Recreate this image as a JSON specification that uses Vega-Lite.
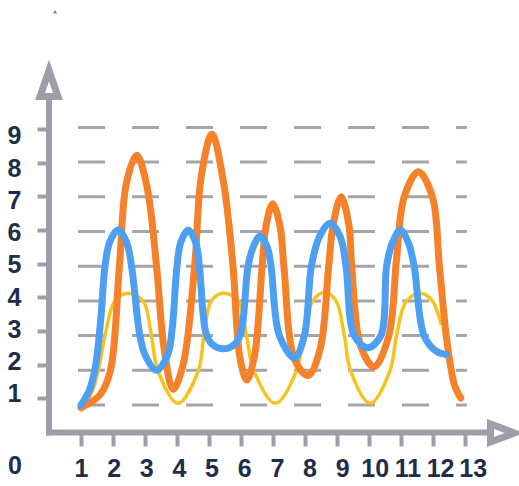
{
  "$schema": "https://vega.github.io/schema/vega-lite/v6.json",
  "width": 519,
  "height": 486,
  "autosize": {"type": "none"},
  "padding": 0,
  "background": "#ffffff",
  "config": {"view": {"stroke": null}},
  "datasets": {
    "grid": [{"v": 1}, {"v": 2}, {"v": 3}, {"v": 4}, {"v": 5}, {"v": 6}, {"v": 7}, {"v": 8}, {"v": 9}],
    "origin": [{"label": "0"}],
    "curves": [
      {"s": "yellow", "x": 1.0, "y": 0.93}, {"s": "yellow", "x": 1.33, "y": 1.35}, {"s": "yellow", "x": 1.54, "y": 2.0}, {"s": "yellow", "x": 1.75, "y": 3.0}, {"s": "yellow", "x": 2.06, "y": 4.0}, {"s": "yellow", "x": 2.47, "y": 4.22}, {"s": "yellow", "x": 2.94, "y": 4.0}, {"s": "yellow", "x": 3.2, "y": 3.0}, {"s": "yellow", "x": 3.4, "y": 2.0}, {"s": "yellow", "x": 4.03, "y": 1.05}, {"s": "yellow", "x": 4.67, "y": 2.0}, {"s": "yellow", "x": 4.84, "y": 3.0}, {"s": "yellow", "x": 5.07, "y": 4.0}, {"s": "yellow", "x": 5.45, "y": 4.22}, {"s": "yellow", "x": 5.92, "y": 4.0}, {"s": "yellow", "x": 6.17, "y": 3.0}, {"s": "yellow", "x": 6.4, "y": 2.0}, {"s": "yellow", "x": 7.07, "y": 1.05}, {"s": "yellow", "x": 7.74, "y": 2.0}, {"s": "yellow", "x": 7.95, "y": 3.0}, {"s": "yellow", "x": 8.24, "y": 4.0}, {"s": "yellow", "x": 8.62, "y": 4.24}, {"s": "yellow", "x": 8.97, "y": 4.0}, {"s": "yellow", "x": 9.23, "y": 3.0}, {"s": "yellow", "x": 9.42, "y": 2.0}, {"s": "yellow", "x": 10.04, "y": 1.05}, {"s": "yellow", "x": 10.66, "y": 2.0}, {"s": "yellow", "x": 10.86, "y": 3.0}, {"s": "yellow", "x": 11.17, "y": 4.0}, {"s": "yellow", "x": 11.63, "y": 4.22}, {"s": "yellow", "x": 11.98, "y": 4.0}, {"s": "yellow", "x": 12.17, "y": 3.6}, {"s": "yellow", "x": 12.25, "y": 3.35},
      {"s": "orange", "x": 1.0, "y": 0.92}, {"s": "orange", "x": 1.6, "y": 1.3}, {"s": "orange", "x": 1.92, "y": 2.0}, {"s": "orange", "x": 2.2, "y": 5.0}, {"s": "orange", "x": 2.42, "y": 7.4}, {"s": "orange", "x": 2.74, "y": 8.2}, {"s": "orange", "x": 3.06, "y": 7.3}, {"s": "orange", "x": 3.36, "y": 5.0}, {"s": "orange", "x": 3.6, "y": 2.6}, {"s": "orange", "x": 3.88, "y": 1.45}, {"s": "orange", "x": 4.2, "y": 2.2}, {"s": "orange", "x": 4.55, "y": 5.0}, {"s": "orange", "x": 4.76, "y": 7.6}, {"s": "orange", "x": 5.09, "y": 8.8}, {"s": "orange", "x": 5.44, "y": 7.5}, {"s": "orange", "x": 5.75, "y": 5.0}, {"s": "orange", "x": 5.96, "y": 2.4}, {"s": "orange", "x": 6.18, "y": 1.72}, {"s": "orange", "x": 6.42, "y": 2.4}, {"s": "orange", "x": 6.66, "y": 5.0}, {"s": "orange", "x": 6.78, "y": 6.15}, {"s": "orange", "x": 6.99, "y": 6.8}, {"s": "orange", "x": 7.22, "y": 6.15}, {"s": "orange", "x": 7.34, "y": 5.0}, {"s": "orange", "x": 7.68, "y": 2.3}, {"s": "orange", "x": 8.1, "y": 1.85}, {"s": "orange", "x": 8.47, "y": 2.6}, {"s": "orange", "x": 8.74, "y": 5.0}, {"s": "orange", "x": 8.88, "y": 6.2}, {"s": "orange", "x": 9.13, "y": 7.0}, {"s": "orange", "x": 9.37, "y": 6.2}, {"s": "orange", "x": 9.46, "y": 5.0}, {"s": "orange", "x": 9.74, "y": 2.7}, {"s": "orange", "x": 10.16, "y": 2.1}, {"s": "orange", "x": 10.62, "y": 3.0}, {"s": "orange", "x": 10.86, "y": 5.2}, {"s": "orange", "x": 11.1, "y": 7.0}, {"s": "orange", "x": 11.54, "y": 7.72}, {"s": "orange", "x": 11.98, "y": 7.0}, {"s": "orange", "x": 12.2, "y": 5.0}, {"s": "orange", "x": 12.44, "y": 2.8}, {"s": "orange", "x": 12.68, "y": 1.55}, {"s": "orange", "x": 12.87, "y": 1.2},
      {"s": "blue", "x": 1.0, "y": 1.0}, {"s": "blue", "x": 1.25, "y": 1.4}, {"s": "blue", "x": 1.45, "y": 2.1}, {"s": "blue", "x": 1.62, "y": 3.5}, {"s": "blue", "x": 1.75, "y": 5.0}, {"s": "blue", "x": 1.9, "y": 5.7}, {"s": "blue", "x": 2.16, "y": 6.05}, {"s": "blue", "x": 2.42, "y": 5.7}, {"s": "blue", "x": 2.58, "y": 5.0}, {"s": "blue", "x": 2.84, "y": 3.0}, {"s": "blue", "x": 3.0, "y": 2.45}, {"s": "blue", "x": 3.36, "y": 2.0}, {"s": "blue", "x": 3.71, "y": 2.45}, {"s": "blue", "x": 3.85, "y": 3.2}, {"s": "blue", "x": 4.0, "y": 5.0}, {"s": "blue", "x": 4.12, "y": 5.7}, {"s": "blue", "x": 4.35, "y": 6.04}, {"s": "blue", "x": 4.58, "y": 5.7}, {"s": "blue", "x": 4.7, "y": 5.0}, {"s": "blue", "x": 4.9, "y": 3.1}, {"s": "blue", "x": 5.1, "y": 2.75}, {"s": "blue", "x": 5.44, "y": 2.62}, {"s": "blue", "x": 5.8, "y": 2.75}, {"s": "blue", "x": 6.0, "y": 3.1}, {"s": "blue", "x": 6.22, "y": 5.0}, {"s": "blue", "x": 6.38, "y": 5.55}, {"s": "blue", "x": 6.6, "y": 5.87}, {"s": "blue", "x": 6.82, "y": 5.55}, {"s": "blue", "x": 6.94, "y": 5.0}, {"s": "blue", "x": 7.2, "y": 3.0}, {"s": "blue", "x": 7.67, "y": 2.36}, {"s": "blue", "x": 7.98, "y": 3.0}, {"s": "blue", "x": 8.2, "y": 5.0}, {"s": "blue", "x": 8.45, "y": 5.85}, {"s": "blue", "x": 8.78, "y": 6.24}, {"s": "blue", "x": 9.1, "y": 5.85}, {"s": "blue", "x": 9.28, "y": 5.0}, {"s": "blue", "x": 9.54, "y": 3.0}, {"s": "blue", "x": 9.96, "y": 2.65}, {"s": "blue", "x": 10.37, "y": 3.0}, {"s": "blue", "x": 10.55, "y": 5.0}, {"s": "blue", "x": 10.74, "y": 5.7}, {"s": "blue", "x": 10.98, "y": 6.04}, {"s": "blue", "x": 11.22, "y": 5.7}, {"s": "blue", "x": 11.41, "y": 5.0}, {"s": "blue", "x": 11.72, "y": 3.0}, {"s": "blue", "x": 12.1, "y": 2.55}, {"s": "blue", "x": 12.42, "y": 2.45}
    ]
  },
  "layer": [
    {
      "layer": [
        {
          "data": {"name": "grid"},
          "mark": {"type": "rule", "stroke": "#a4a5aa", "strokeWidth": 3, "strokeDash": [27, 27]},
          "encoding": {
            "x": {"datum": 0.906, "type": "quantitative", "title": null, "axis": null, "scale": {"domain": [-1.53125, 14.6875], "nice": false, "zero": false}},
            "x2": {"datum": 13.06},
            "y": {"field": "v", "type": "quantitative", "title": null, "axis": null, "scale": {"domain": [-1.3343, 12.6715], "nice": false, "zero": false}}
          }
        },
        {
          "data": {"name": "curves"},
          "transform": [{"filter": "datum.s == 'yellow'"}],
          "mark": {"type": "line", "interpolate": "catmull-rom", "stroke": "#f6c21c", "strokeWidth": 3.5, "strokeCap": "round"},
          "encoding": {
            "x": {"field": "x", "type": "quantitative", "title": null, "axis": null, "scale": {"domain": [-1.53125, 14.6875], "nice": false, "zero": false}},
            "y": {"field": "y", "type": "quantitative", "title": null, "axis": null, "scale": {"domain": [-1.3343, 12.6715], "nice": false, "zero": false}}
          }
        },
        {
          "data": {"name": "curves"},
          "transform": [{"filter": "datum.s == 'orange'"}],
          "mark": {"type": "line", "interpolate": "catmull-rom", "stroke": "#f5812b", "strokeWidth": 7, "strokeCap": "round"},
          "encoding": {
            "x": {"field": "x", "type": "quantitative", "title": null, "axis": null, "scale": {"domain": [-1.53125, 14.6875], "nice": false, "zero": false}},
            "y": {"field": "y", "type": "quantitative", "title": null, "axis": null, "scale": {"domain": [-1.3343, 12.6715], "nice": false, "zero": false}}
          }
        },
        {
          "data": {"name": "curves"},
          "transform": [{"filter": "datum.s == 'blue'"}],
          "mark": {"type": "line", "interpolate": "catmull-rom", "stroke": "#4d9ff4", "strokeWidth": 7, "strokeCap": "round"},
          "encoding": {
            "x": {"field": "x", "type": "quantitative", "title": null, "axis": null, "scale": {"domain": [-1.53125, 14.6875], "nice": false, "zero": false}},
            "y": {"field": "y", "type": "quantitative", "title": null, "axis": null, "scale": {"domain": [-1.3343, 12.6715], "nice": false, "zero": false}}
          }
        }
      ]
    },
    {
      "data": {"values": [{}]},
      "mark": {"type": "rule", "stroke": "#9d9ea7", "strokeWidth": 6},
      "encoding": {
        "x": {
          "datum": 0, "type": "quantitative", "title": null,
          "scale": {"domain": [-1.53125, 14.6875], "nice": false, "zero": false},
          "axis": {
            "orient": "bottom", "offset": -54, "values": [1, 2, 3, 4, 5, 6, 7, 8, 9, 10, 11, 12, 13],
            "domain": false, "grid": false, "labels": false, "title": null,
            "ticks": true, "tickSize": 14, "tickWidth": 4, "tickColor": "#9d9ea7"
          }
        },
        "y": {
          "datum": -0.105, "type": "quantitative", "title": null,
          "scale": {"domain": [-1.6055, 12.833], "nice": false, "zero": false},
          "axis": {
            "orient": "left", "offset": -49, "values": [1, 2, 3, 4, 5, 6, 7, 8, 9],
            "domain": false, "grid": false, "labels": false, "title": null,
            "ticks": true, "tickSize": 12, "tickWidth": 4, "tickColor": "#9d9ea7"
          }
        },
        "y2": {"datum": 9.95}
      }
    },
    {
      "data": {"values": [{}]},
      "mark": {"type": "rule", "stroke": "#9d9ea7", "strokeWidth": 6},
      "encoding": {
        "x": {"datum": -0.094, "type": "quantitative", "title": null, "axis": null, "scale": {"domain": [-1.53125, 14.6875], "nice": false, "zero": false}},
        "x2": {"datum": 13.75},
        "y": {"datum": -0.015, "type": "quantitative", "title": null, "axis": null, "scale": {"domain": [-1.6055, 12.833], "nice": false, "zero": false}}
      }
    },
    {
      "data": {"values": [{}]},
      "mark": {"type": "point", "shape": "M0,-0.867L0.6,0.867L-0.6,0.867Z", "size": 900, "filled": true, "fill": "#ffffff", "stroke": "#9d9ea7", "strokeWidth": 7, "strokeJoin": "miter", "opacity": 1},
      "encoding": {
        "x": {"datum": 0, "type": "quantitative", "title": null, "axis": null, "scale": {"domain": [-1.53125, 14.6875], "nice": false, "zero": false}},
        "y": {"datum": 10.352, "type": "quantitative", "title": null, "axis": null, "scale": {"domain": [-1.6055, 12.833], "nice": false, "zero": false}}
      }
    },
    {
      "data": {"values": [{}]},
      "mark": {"type": "point", "shape": "M0.8,0L-0.8,0.6L-0.8,-0.6Z", "size": 900, "filled": true, "fill": "#ffffff", "stroke": "#9d9ea7", "strokeWidth": 7, "strokeJoin": "miter", "opacity": 1},
      "encoding": {
        "x": {"datum": 14.172, "type": "quantitative", "title": null, "axis": null, "scale": {"domain": [-1.53125, 14.6875], "nice": false, "zero": false}},
        "y": {"datum": -0.03, "type": "quantitative", "title": null, "axis": null, "scale": {"domain": [-1.6055, 12.833], "nice": false, "zero": false}}
      }
    },
    {
      "data": {"values": [{}]},
      "mark": {"type": "point", "shape": "triangle-up", "size": 18, "filled": true, "color": "#8a8a8f", "opacity": 1},
      "encoding": {
        "x": {"datum": 0.1875, "type": "quantitative", "title": null, "axis": null, "scale": {"domain": [-1.53125, 14.6875], "nice": false, "zero": false}},
        "y": {"datum": 12.485, "type": "quantitative", "title": null, "axis": null, "scale": {"domain": [-1.6055, 12.833], "nice": false, "zero": false}}
      }
    },
    {
      "data": {"name": "origin"},
      "mark": {"type": "text", "font": "Liberation Sans, Arial, sans-serif", "fontSize": 25, "fontWeight": "bold", "color": "#1e2d4a", "align": "center", "baseline": "middle"},
      "encoding": {
        "text": {"field": "label"},
        "x": {
          "datum": -1.022, "type": "quantitative", "title": null,
          "scale": {"domain": [-1.4816, 14.419], "nice": false, "zero": false},
          "axis": {
            "orient": "bottom", "offset": -54, "values": [1, 2, 3, 4, 5, 6, 7, 8, 9, 10, 11, 12, 13],
            "domain": false, "grid": false, "ticks": false, "tickSize": 0, "title": null,
            "labelFont": "Liberation Sans, Arial, sans-serif",
            "labelFontSize": 25, "labelFontWeight": "bold", "labelColor": "#1e2d4a",
            "labelPadding": 24, "labelFlush": false, "labelOverlap": false, "labelBound": false
          }
        },
        "y": {
          "datum": -1.233, "type": "quantitative", "title": null,
          "scale": {"domain": [-1.853, 13.217], "nice": false, "zero": false},
          "axis": {
            "orient": "left", "offset": -49, "values": [1, 2, 3, 4, 5, 6, 7, 8, 9],
            "domain": false, "grid": false, "ticks": false, "tickSize": 0, "title": null,
            "labelFont": "Liberation Sans, Arial, sans-serif",
            "labelFontSize": 25, "labelFontWeight": "bold", "labelColor": "#1e2d4a",
            "labelPadding": 28, "labelBaseline": "middle", "labelFlush": false, "labelOverlap": false, "labelBound": false
          }
        }
      }
    }
  ],
  "resolve": {"scale": {"x": "independent", "y": "independent"}, "axis": {"x": "independent", "y": "independent"}}
}
